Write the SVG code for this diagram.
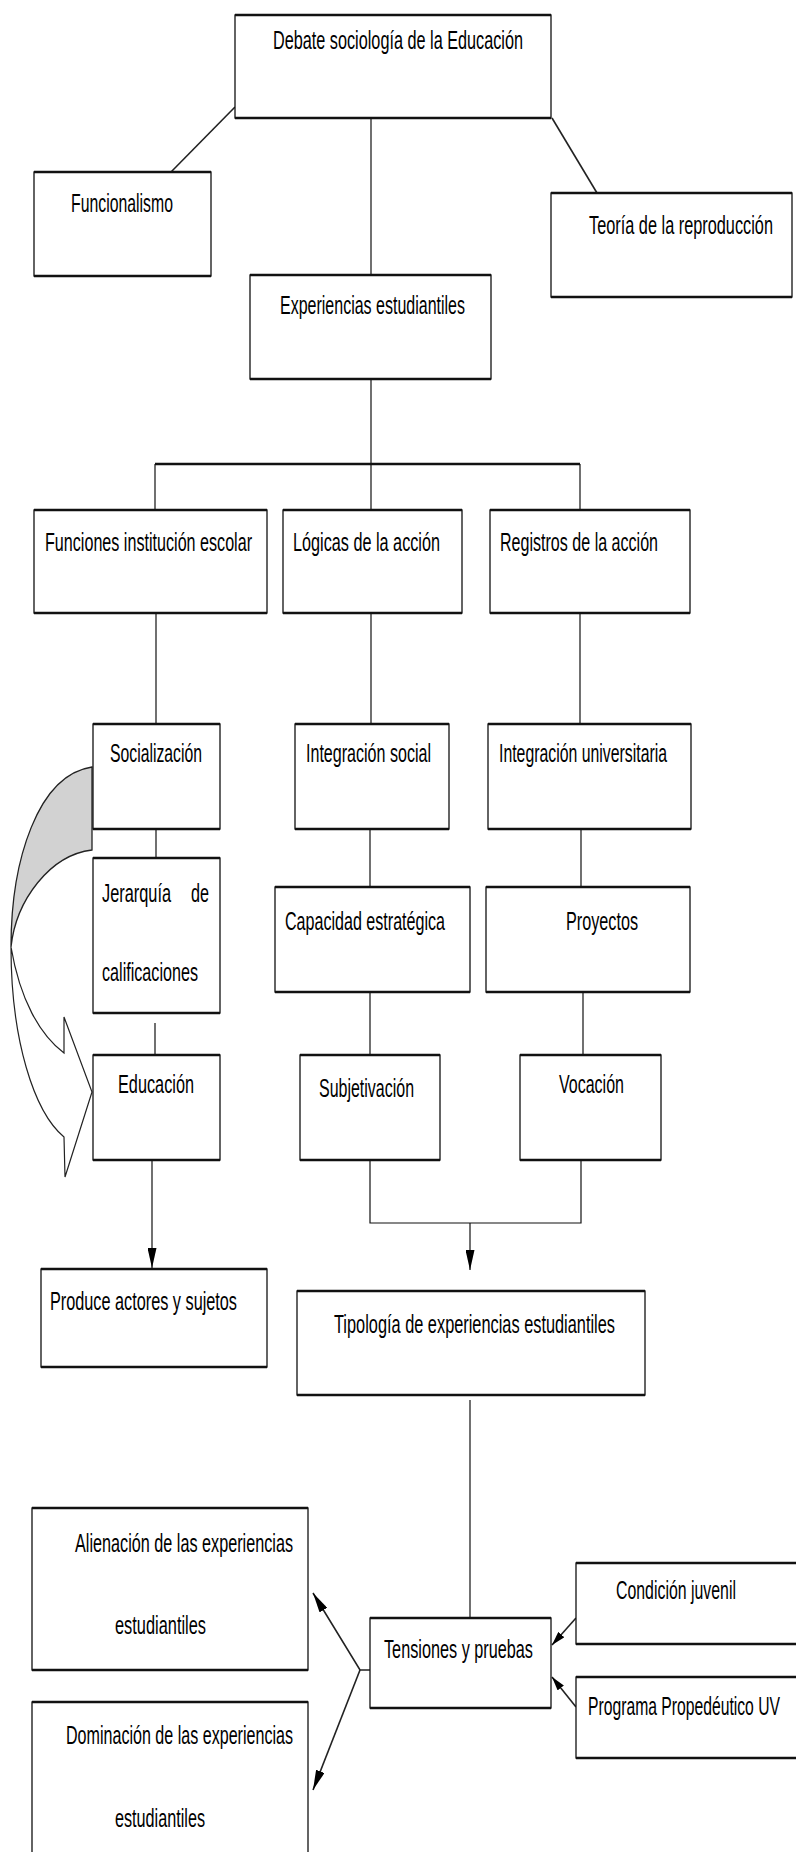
<svg xmlns="http://www.w3.org/2000/svg" width="796" height="1852" viewBox="0 0 796 1852">
<style>
  .bx{fill:#fff;stroke:#111;stroke-width:1.3}
  .tb{stroke:#111;stroke-width:2.6;fill:none}
  .t{font-family:"Liberation Sans",Arial,sans-serif;font-size:25px;fill:#000}
  .c{stroke:#111;stroke-width:1.2;fill:none}
  .ck{stroke:#111;stroke-width:2.6;fill:none}
  .cd{stroke:#222;stroke-width:1.6;fill:none}
</style>
<defs>
  <marker id="ah" viewBox="0 0 20 9" refX="20" refY="4.5" markerWidth="20" markerHeight="9" markerUnits="userSpaceOnUse" orient="auto">
    <path d="M0,0 L20,4.5 L0,9 Z" fill="#000"/>
  </marker>
  <marker id="as" viewBox="0 0 14 8" refX="14" refY="4" markerWidth="14" markerHeight="8" markerUnits="userSpaceOnUse" orient="auto">
    <path d="M0,0 L14,4 L0,8 Z" fill="#000"/>
  </marker>
</defs>
<rect width="796" height="1852" fill="#fff"/>

<g id="connectors">
  <line class="cd" x1="235" y1="107" x2="171" y2="172"/>
  <line class="cd" x1="552" y1="118" x2="597" y2="193"/>
  <line class="c" x1="371" y1="118" x2="371" y2="275"/>
  <line class="c" x1="371" y1="379" x2="371" y2="464"/>
  <line class="ck" x1="155" y1="464" x2="580" y2="464"/>
  <line class="c" x1="155" y1="464" x2="155" y2="510"/>
  <line class="c" x1="371" y1="464" x2="371" y2="510"/>
  <line class="c" x1="580" y1="464" x2="580" y2="510"/>
  <line class="c" x1="156" y1="613" x2="156" y2="724"/>
  <line class="c" x1="371" y1="613" x2="371" y2="724"/>
  <line class="c" x1="580" y1="613" x2="580" y2="724"/>
  <line class="c" x1="156" y1="829" x2="156" y2="858"/>
  <line class="c" x1="370" y1="829" x2="370" y2="887"/>
  <line class="c" x1="581" y1="829" x2="581" y2="890"/>
  <line class="c" x1="155" y1="1023" x2="155" y2="1055"/>
  <line class="c" x1="370" y1="992" x2="370" y2="1055"/>
  <line class="c" x1="583" y1="992" x2="583" y2="1055"/>
  <line class="c" x1="152" y1="1160" x2="152" y2="1268" marker-end="url(#ah)"/>
  <polyline class="c" points="370,1160 370,1223 581,1223 581,1155"/>
  <line class="c" x1="470" y1="1223" x2="470" y2="1270" marker-end="url(#ah)"/>
  <line class="c" x1="470" y1="1400" x2="470" y2="1618"/>
  <polyline class="cd" points="370,1670 360,1670 313,1593" marker-end="url(#ah)"/>
  <line class="cd" x1="360" y1="1670" x2="313" y2="1790" marker-end="url(#ah)"/>
  <line class="cd" x1="576" y1="1618" x2="552" y2="1645" marker-end="url(#as)"/>
  <line class="cd" x1="576" y1="1707" x2="552" y2="1677" marker-end="url(#as)"/>
</g>

<g id="curved-arrow">
  <path d="M92,767 C38,775 11,860 11,947 C16,900 50,855 92,850 Z" fill="#d2d2d2" stroke="#222" stroke-width="1.3"/>
  <path d="M11,947 C20,1000 40,1035 64,1053 L64,1017 L92,1092 L65,1177 L64,1137 C34,1112 11,1040 11,947 Z" fill="#fff" stroke="#222" stroke-width="1.2"/>
</g>

<g id="n-debate">
  <rect class="bx" x="235" y="15" width="316" height="103"/>
  <path class="tb" d="M235,15 H551 M235,118 H551"/>
  <text class="t" transform="translate(273,49) scale(0.65,1)" textLength="384.6" lengthAdjust="spacingAndGlyphs">Debate sociología de la Educación</text>
</g>
<g id="n-funcionalismo">
  <rect class="bx" x="34" y="172" width="177" height="104"/>
  <path class="tb" d="M34,172 H211 M34,276 H211"/>
  <text class="t" transform="translate(71,212) scale(0.65,1)" textLength="156.9" lengthAdjust="spacingAndGlyphs">Funcionalismo</text>
</g>
<g id="n-teoria">
  <rect class="bx" x="551" y="193" width="241" height="104"/>
  <path class="tb" d="M551,193 H792 M551,297 H792"/>
  <text class="t" transform="translate(589,234) scale(0.65,1)" textLength="283.1" lengthAdjust="spacingAndGlyphs">Teoría de la reproducción</text>
</g>
<g id="n-experiencias">
  <rect class="bx" x="250" y="275" width="241" height="104"/>
  <path class="tb" d="M250,275 H491 M250,379 H491"/>
  <text class="t" transform="translate(280,314) scale(0.65,1)" textLength="284.6" lengthAdjust="spacingAndGlyphs">Experiencias estudiantiles</text>
</g>
<g id="n-funciones">
  <rect class="bx" x="34" y="510" width="233" height="103"/>
  <path class="tb" d="M34,510 H267 M34,613 H267"/>
  <text class="t" transform="translate(45,551) scale(0.65,1)" textLength="318.5" lengthAdjust="spacingAndGlyphs">Funciones institución escolar</text>
</g>
<g id="n-logicas">
  <rect class="bx" x="283" y="510" width="179" height="103"/>
  <path class="tb" d="M283,510 H462 M283,613 H462"/>
  <text class="t" transform="translate(293,551) scale(0.65,1)" textLength="226.2" lengthAdjust="spacingAndGlyphs">Lógicas de la acción</text>
</g>
<g id="n-registros">
  <rect class="bx" x="490" y="510" width="200" height="103"/>
  <path class="tb" d="M490,510 H690 M490,613 H690"/>
  <text class="t" transform="translate(500,551) scale(0.65,1)" textLength="243.1" lengthAdjust="spacingAndGlyphs">Registros de la acción</text>
</g>
<g id="n-socializacion">
  <rect class="bx" x="93" y="724" width="127" height="105"/>
  <path class="tb" d="M93,724 H220 M93,829 H220"/>
  <text class="t" transform="translate(110,762) scale(0.65,1)" textLength="141.5" lengthAdjust="spacingAndGlyphs">Socialización</text>
</g>
<g id="n-integracion-social">
  <rect class="bx" x="295" y="724" width="154" height="105"/>
  <path class="tb" d="M295,724 H449 M295,829 H449"/>
  <text class="t" transform="translate(306,762) scale(0.65,1)" textLength="192.3" lengthAdjust="spacingAndGlyphs">Integración social</text>
</g>
<g id="n-integracion-universitaria">
  <rect class="bx" x="488" y="724" width="203" height="105"/>
  <path class="tb" d="M488,724 H691 M488,829 H691"/>
  <text class="t" transform="translate(499,762) scale(0.65,1)" textLength="258.5" lengthAdjust="spacingAndGlyphs">Integración universitaria</text>
</g>
<g id="n-jerarquia">
  <rect class="bx" x="93" y="858" width="127" height="155"/>
  <path class="tb" d="M93,858 H220 M93,1013 H220"/>
  <text class="t" transform="translate(102,902) scale(0.65,1)" textLength="106.2" lengthAdjust="spacingAndGlyphs">Jerarquía</text>
  <text class="t" transform="translate(191,902) scale(0.65,1)" textLength="27.7" lengthAdjust="spacingAndGlyphs">de</text>
  <text class="t" transform="translate(102,981) scale(0.65,1)" textLength="147.7" lengthAdjust="spacingAndGlyphs">calificaciones</text>
</g>
<g id="n-capacidad">
  <rect class="bx" x="275" y="887" width="195" height="105"/>
  <path class="tb" d="M275,887 H470 M275,992 H470"/>
  <text class="t" transform="translate(285,930) scale(0.65,1)" textLength="246.2" lengthAdjust="spacingAndGlyphs">Capacidad estratégica</text>
</g>
<g id="n-proyectos">
  <rect class="bx" x="486" y="887" width="204" height="105"/>
  <path class="tb" d="M486,887 H690 M486,992 H690"/>
  <text class="t" transform="translate(566,930) scale(0.65,1)" textLength="110.8" lengthAdjust="spacingAndGlyphs">Proyectos</text>
</g>
<g id="n-educacion">
  <rect class="bx" x="93" y="1055" width="127" height="105"/>
  <path class="tb" d="M93,1055 H220 M93,1160 H220"/>
  <text class="t" transform="translate(118,1093) scale(0.65,1)" textLength="116.9" lengthAdjust="spacingAndGlyphs">Educación</text>
</g>
<g id="n-subjetivacion">
  <rect class="bx" x="300" y="1055" width="140" height="105"/>
  <path class="tb" d="M300,1055 H440 M300,1160 H440"/>
  <text class="t" transform="translate(319,1097) scale(0.65,1)" textLength="146.2" lengthAdjust="spacingAndGlyphs">Subjetivación</text>
</g>
<g id="n-vocacion">
  <rect class="bx" x="520" y="1055" width="141" height="105"/>
  <path class="tb" d="M520,1055 H661 M520,1160 H661"/>
  <text class="t" transform="translate(559,1093) scale(0.65,1)" textLength="100" lengthAdjust="spacingAndGlyphs">Vocación</text>
</g>
<g id="n-produce">
  <rect class="bx" x="41" y="1269" width="226" height="98"/>
  <path class="tb" d="M41,1269 H267 M41,1367 H267"/>
  <text class="t" transform="translate(50,1310) scale(0.65,1)" textLength="287.7" lengthAdjust="spacingAndGlyphs">Produce actores y sujetos</text>
</g>
<g id="n-tipologia">
  <rect class="bx" x="297" y="1291" width="348" height="104"/>
  <path class="tb" d="M297,1291 H645 M297,1395 H645"/>
  <text class="t" transform="translate(334,1333) scale(0.65,1)" textLength="432.3" lengthAdjust="spacingAndGlyphs">Tipología de experiencias estudiantiles</text>
</g>
<g id="n-alienacion">
  <rect class="bx" x="32" y="1508" width="276" height="162"/>
  <path class="tb" d="M32,1508 H308 M32,1670 H308"/>
  <text class="t" transform="translate(75,1552) scale(0.65,1)" textLength="335.4" lengthAdjust="spacingAndGlyphs">Alienación de las experiencias</text>
  <text class="t" transform="translate(115,1634) scale(0.65,1)" textLength="140" lengthAdjust="spacingAndGlyphs">estudiantiles</text>
</g>
<g id="n-dominacion">
  <rect class="bx" x="32" y="1702" width="276" height="160"/>
  <path class="tb" d="M32,1702 H308"/>
  <text class="t" transform="translate(66,1744) scale(0.65,1)" textLength="349.2" lengthAdjust="spacingAndGlyphs">Dominación de las experiencias</text>
  <text class="t" transform="translate(115,1827) scale(0.65,1)" textLength="138.5" lengthAdjust="spacingAndGlyphs">estudiantiles</text>
</g>
<g id="n-tensiones">
  <rect class="bx" x="370" y="1618" width="181" height="90"/>
  <path class="tb" d="M370,1618 H551 M370,1708 H551"/>
  <text class="t" transform="translate(384,1658) scale(0.65,1)" textLength="229.2" lengthAdjust="spacingAndGlyphs">Tensiones y pruebas</text>
</g>
<g id="n-condicion">
  <rect class="bx" x="576" y="1563" width="224" height="81"/>
  <path class="tb" d="M576,1563 H800 M576,1644 H800"/>
  <text class="t" transform="translate(616,1599) scale(0.65,1)" textLength="184.6" lengthAdjust="spacingAndGlyphs">Condición juvenil</text>
</g>
<g id="n-programa">
  <rect class="bx" x="576" y="1677" width="224" height="81"/>
  <path class="tb" d="M576,1677 H800 M576,1758 H800"/>
  <text class="t" transform="translate(588,1715) scale(0.65,1)" textLength="295.4" lengthAdjust="spacingAndGlyphs">Programa Propedéutico UV</text>
</g>
</svg>
